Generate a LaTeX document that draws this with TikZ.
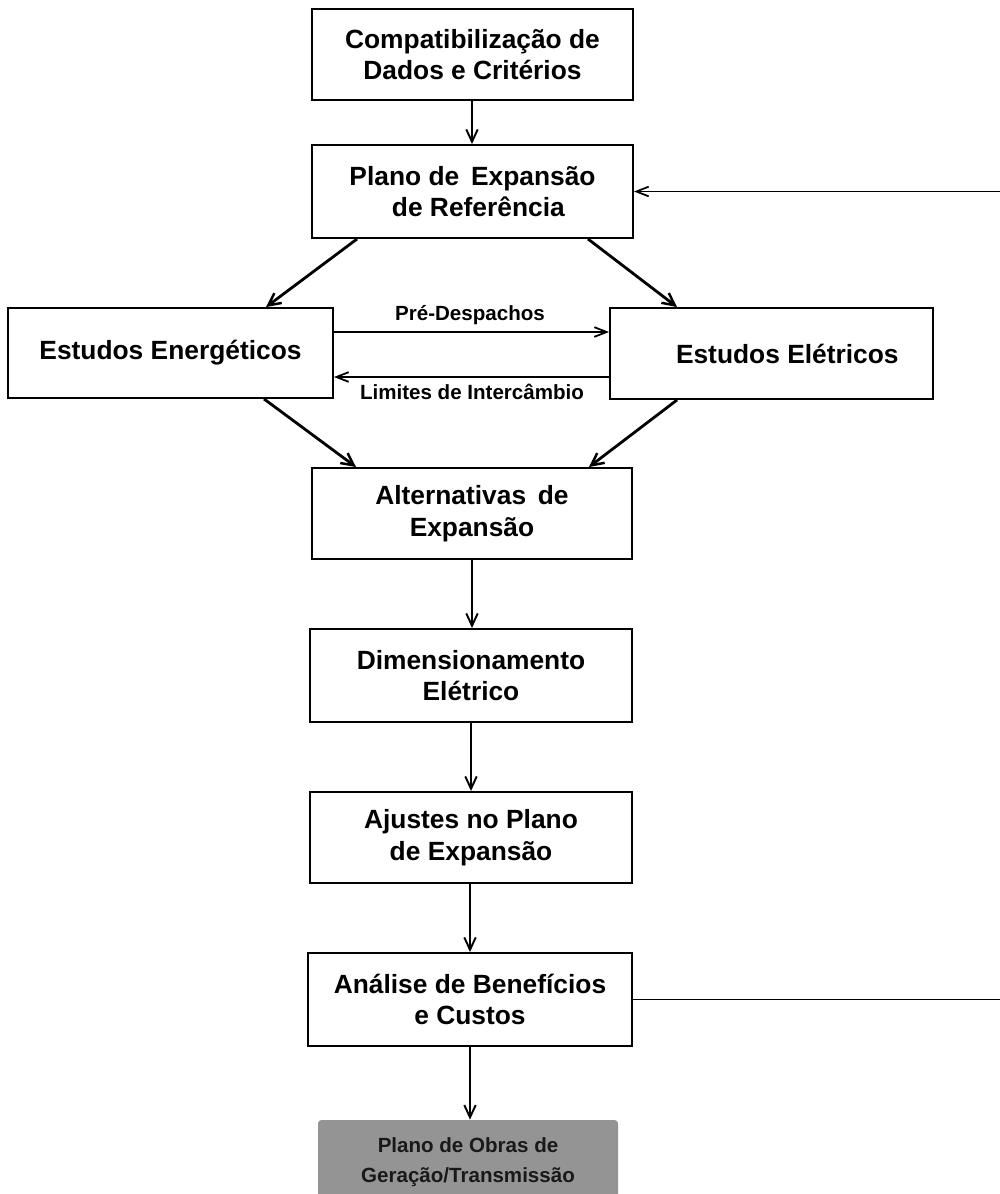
\documentclass[tikz,border=0pt]{standalone}
\usepackage{fontspec}
\setmainfont{Liberation Sans}
\usetikzlibrary{arrows.meta,calc}
\newdimen\px
\px=0.02cm
\tikzset{
  stepbox/.style={draw, line width=1.1pt, rectangle, inner sep=0pt, align=center,
    font=\fontsize{15pt}{18pt}\selectfont\bfseries},
  flowlabel/.style={inner sep=0pt, font=\fontsize{11.7pt}{14pt}\selectfont\bfseries},
  resultbox/.style={rectangle, rounded corners=2pt, fill=black!42, inner sep=0pt, align=center,
    text=black!90, font=\fontsize{11.7pt}{17pt}\selectfont\bfseries},
  arr/.style={line width=1.1pt, -{Straight Barb[length=7pt,width=6.5pt,line width=1.1pt]}},
  diag/.style={line width=1.6pt, -{Straight Barb[length=7pt,width=7pt,line width=1.4pt]}},
  side/.style={line width=0.9pt, -{Straight Barb[length=7pt,width=5.5pt,line width=1pt]}},
  loopline/.style={line width=0.9pt, -{Straight Barb[length=7pt,width=5.5pt,line width=1pt]}}
}
\begin{document}
\begin{tikzpicture}[x=0.02cm, y=-0.02cm]
\useasboundingbox (0,0) rectangle (1000,1194);
\fill[white] (0,0) rectangle (1000,1194);

% process boxes
\node[stepbox, minimum width=321\px, minimum height=91\px] (b1) at (472.5,54.5)
  {Compatibilização de\\Dados e Critérios};
\node[stepbox, minimum width=321\px, minimum height=93\px] (b2) at (472.5,191.5)
  {Plano de\, Expansão\\\, de Referência};
\node[stepbox, minimum width=325\px, minimum height=90\px] (b3) at (170.5,353)
  {Estudos Energéticos};
\node[stepbox, minimum width=323\px, minimum height=91\px] (b4) at (771.5,353.5)
  {\hspace*{18pt}Estudos Elétricos};
\node[stepbox, minimum width=320\px, minimum height=91\px] (b5) at (472,513.5)
  {Alternativas\, de\\Expansão};
\node[stepbox, minimum width=322\px, minimum height=93\px] (b6) at (471,675.5)
  {Dimensionamento\\Elétrico};
\node[stepbox, minimum width=322\px, minimum height=91\px] (b7) at (471,837.5)
  {Ajustes no Plano\\de Expansão};
\node[stepbox, minimum width=324\px, minimum height=93\px] (b8) at (470,999.5)
  {Análise de Benefícios\\e Custos};

% final result (shaded)
\node[resultbox, minimum width=300\px, minimum height=84\px] (b9) at (468,1162)
  {Plano de Obras de\\Geração/Transmissão};

% vertical flow
\draw[arr] (b1.south -| 472,0) -- (b2.north -| 472,0);
\draw[arr] (b5.south) -- (b5.south |- b6.north);
\draw[arr] (b6.south) -- (b6.south |- b7.north);
\draw[arr] (b7.south -| b8.north) -- (b8.north);
\draw[arr] (b8.south) -- (b8.south |- b9.north);

% split to the two studies
\draw[diag] ($(b2.south west)+(46,0)$) -- ($(b3.north west)+(259,0)$);
\draw[diag] ($(b2.south east)+(-46,0)$) -- ($(b4.north west)+(68,0)$);

% join into the alternatives
\draw[diag] ($(b3.south west)+(257,0)$) -- ($(b5.north west)+(45,0)$);
\draw[diag] ($(b4.south west)+(68,0)$) -- ($(b5.north east)+(-44,0)$);

% exchanges between the studies
\draw[side] ($(b3.east)+(0,-21)$) coordinate (pd) -- (pd -| b4.west);
\node[flowlabel] (lpd) at (470,315) {Pré-Despachos};
\draw[side] ($(b4.west)+(0,23.5)$) coordinate (li) -- (li -| b3.east);
\node[flowlabel] (lli) at (472,392) {Limites de Intercâmbio};

% feedback loop back to the reference plan
\draw[loopline] (b8.east) -- ++(372,0) coordinate (fb) |- (b2.east);
\end{tikzpicture}
\end{document}
